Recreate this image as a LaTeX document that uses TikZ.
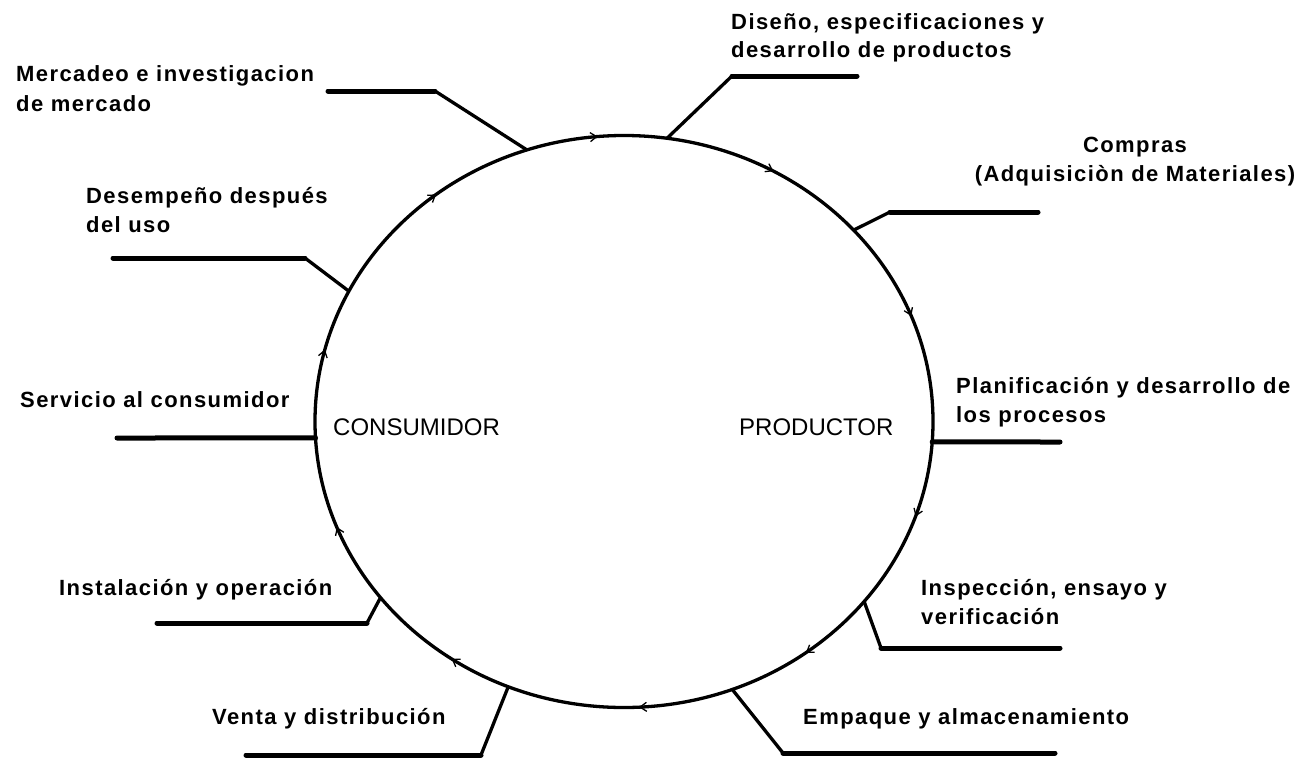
\documentclass[tikz,border=0pt]{standalone}
\usepackage{fontspec}
\setmainfont{Liberation Sans}
\newfontfamily\lblfont{Liberation Sans}[LetterSpace=6.5]
\usetikzlibrary{calc,decorations.markings,arrows.meta}
\pgfkeys{/pgf/decoration/tipmark/.style={mark=at position #1 with {\arrowreversed{Straight Barb[length=6.5pt,width=9pt,line width=1.3pt]}}}}
\begin{document}
\begin{tikzpicture}[x=1pt,y=-1pt,
  lbl/.style={font=\lblfont\bfseries\fontsize{22}{26}\selectfont, inner sep=0pt, anchor=base west},
  lblc/.style={lbl, anchor=base},
  big/.style={font=\fontsize{24}{28}\selectfont, inner sep=0pt, anchor=base west},
  leg/.style={line width=3.3pt},
  bar/.style={line width=5pt, line cap=round},
  ring/.style={line width=3.3pt}]
\useasboundingbox (0,0) rectangle (1311,758);
\coordinate (C) at (624,421.5);
% cycle
\draw[ring, postaction={decorate}, decoration={markings,
   tipmark=0.058, tipmark=0.167, tipmark=0.264, tipmark=0.357, tipmark=0.461,
   tipmark=0.558, tipmark=0.653, tipmark=0.758, tipmark=0.853, tipmark=0.948}]
   (C) ellipse [x radius=309pt, y radius=286pt];
% junctions on the cycle
\coordinate (jMer) at ($(C)+(108.3:309pt and 286pt)$);
\coordinate (jDis) at ($(C)+(82:309pt and 286pt)$);
\coordinate (jCom) at ($(C)+(42:309pt and 286pt)$);
\coordinate (jPla) at ($(C)+(-4.1:309pt and 286pt)$);
\coordinate (jIns) at ($(C)+(-39:309pt and 286pt)$);
\coordinate (jEmp) at ($(C)+(-69.5:309pt and 286pt)$);
\coordinate (jVen) at ($(C)+(-112:309pt and 286pt)$);
\coordinate (jIst) at ($(C)+(-142:309pt and 286pt)$);
\coordinate (jSer) at ($(C)+(183.3:309pt and 286pt)$);
\coordinate (jDes) at ($(C)+(152.9:309pt and 286pt)$);
% bends and ends
\coordinate (bMer) at (435,91);  \coordinate (eMer) at (328,91);
\coordinate (bDis) at (732,76);  \coordinate (eDis) at (857,76);
\coordinate (bCom) at (890,212); \coordinate (eCom) at (1038,212);
\coordinate (ePla) at (1060,442);
\coordinate (bIns) at (881,648); \coordinate (eIns) at (1060,648);
\coordinate (bEmp) at (783,753); \coordinate (eEmp) at (1055,753);
\coordinate (bVen) at (481,755); \coordinate (eVen) at (246,755);
\coordinate (bIst) at (367,623); \coordinate (eIst) at (157,623);
\coordinate (eSer) at (117,438);
\coordinate (bDes) at (305,258); \coordinate (eDes) at (113,258);
% leader lines
\draw[leg] (jMer) -- (bMer); \draw[bar] (bMer) -- (eMer);
\draw[leg] (jDis) -- (bDis); \draw[bar] (bDis) -- (eDis);
\draw[leg] (jCom) -- (bCom); \draw[bar] (bCom) -- (eCom);
\draw[bar] (jPla) -- (ePla);
\draw[leg] (jIns) -- (bIns); \draw[bar] (bIns) -- (eIns);
\draw[leg] (jEmp) -- (bEmp); \draw[bar] (bEmp) -- (eEmp);
\draw[leg] (jVen) -- (bVen); \draw[bar] (bVen) -- (eVen);
\draw[leg] (jIst) -- (bIst); \draw[bar] (bIst) -- (eIst);
\draw[bar] (jSer) -- (eSer);
\draw[leg] (jDes) -- (bDes); \draw[bar] (bDes) -- (eDes);
% labels
\node[lbl] (merA) at (16,81) {Mercadeo e investigacion};
\node[lbl] (merB) at (16,111) {de mercado};
\node[lbl] (disA) at (731,29) {Diseño, especificaciones y};
\node[lbl] (disB) at (731,57) {desarrollo de productos};
\node[lblc] (comA) at (1135,152) {Compras};
\node[lblc] (comB) at (1135,181) {(Adquisiciòn de Materiales)};
\node[lbl] (desA) at (86,203) {Desempeño después};
\node[lbl] (desB) at (86,232) {del uso};
\node[lbl] (ser) at (20,407) {Servicio al consumidor};
\node[lbl] (plaA) at (956,393) {Planificación y desarrollo de};
\node[lbl] (plaB) at (956,422) {los procesos};
\node[lbl] (ist) at (59,595) {Instalación y operación};
\node[lbl] (insA) at (921,595) {Inspección, ensayo y};
\node[lbl] (insB) at (921,624) {verificación};
\node[lbl] (ven) at (212,724) {Venta y distribución};
\node[lbl] (emp) at (803,724) {Empaque y almacenamiento};
\node[big] (cons) at (333,435) {CONSUMIDOR};
\node[big] (prod) at (739,435) {PRODUCTOR};
\end{tikzpicture}
\end{document}
